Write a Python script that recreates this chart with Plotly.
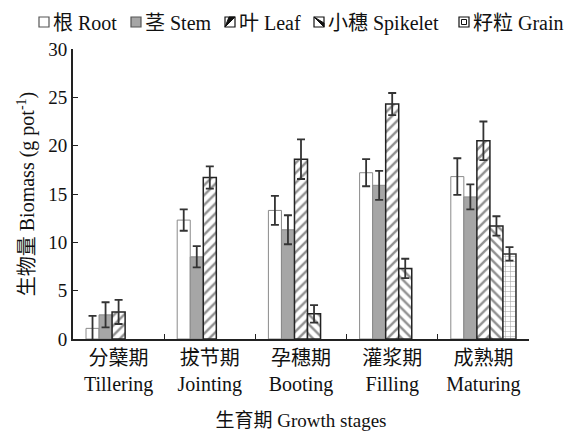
import plotly.graph_objects as go

CJK = "font-family:'Noto Sans CJK SC'"


def zh(text):
    """Wrap Chinese text in a span so it uses the CJK font."""
    return f"<span style=\"{CJK}\">{text}</span>"


# Growth stages (two-line labels: Chinese / English)
stages_zh = ["分蘖期", "拔节期", "孕穗期", "灌浆期", "成熟期"]
stages_en = ["Tillering", "Jointing", "Booting", "Filling", "Maturing"]
stages = [f"{zh(c)}<br>{e}" for c, e in zip(stages_zh, stages_en)]

# Organ names
organs_zh = ["根", "茎", "叶", "小穗", "籽粒"]
organs_en = ["Root", "Stem", "Leaf", "Spikelet", "Grain"]

# Biomass (g pot^-1) per organ, with standard deviations
root = [1.1, 12.3, 13.3, 17.2, 16.8]
root_sd = [1.3, 1.1, 1.5, 1.4, 1.9]
stem = [2.5, 8.5, 11.3, 15.9, 14.7]
stem_sd = [1.3, 1.1, 1.5, 1.5, 1.3]
leaf = [2.8, 16.7, 18.6, 24.3, 20.5]
leaf_sd = [1.25, 1.15, 2.05, 1.15, 2.0]
spikelet = [None, None, 2.6, 7.3, 11.7]
spikelet_sd = [None, None, 0.9, 1.0, 1.0]
grain = [None, None, None, None, 8.8]
grain_sd = [None, None, None, None, 0.7]

serif = "Liberation Serif, serif"

markers = [
    dict(color="white", line=dict(color="#8a8a8a", width=1)),
    dict(color="#a6a6a6", line=dict(color="#8a8a8a", width=1)),
    dict(color="white", line=dict(color="#222", width=1.5),
         pattern=dict(shape="/", fgcolor="#222", bgcolor="white", size=7, solidity=0.35)),
    dict(color="white", line=dict(color="#222", width=1.5),
         pattern=dict(shape="\\", fgcolor="#222", bgcolor="white", size=7, solidity=0.35)),
    dict(color="white", line=dict(color="#333", width=1.5),
         pattern=dict(shape="+", fgcolor="#444", bgcolor="white", size=5, solidity=0.2)),
]
values = [root, stem, leaf, spikelet, grain]
errors = [root_sd, stem_sd, leaf_sd, spikelet_sd, grain_sd]

fig = go.Figure()
for zh_name, en_name, vals, sd, marker in zip(organs_zh, organs_en, values, errors, markers):
    fig.add_trace(go.Bar(
        name=f"{zh(zh_name)} {en_name}", x=stages, y=vals, marker=marker,
        error_y=dict(type="data", array=sd, visible=True, color="#333",
                     thickness=1.8, width=4),
    ))

# Plot-area geometry in pixels (used to place the key above the axes)
W, H = 576, 432
L, R, T, B = 73, 47, 49, 93
PW, PH = W - L - R, H - T - B


def px(x):
    return (x - L) / PW


def py(y):
    return (H - B - y) / PH


# Key: small symbol squares followed by labels, in one row
key_x = [39, 131, 225, 314, 459]     # left edge of each symbol square
key_y = 22                           # vertical centre of the row
sq = 10
shapes, annotations = [], []
for i, (x0, zname, ename) in enumerate(zip(key_x, organs_zh, organs_en)):
    x1 = x0 + sq
    y0, y1 = key_y - sq / 2, key_y + sq / 2
    fill = "#a6a6a6" if i == 1 else "white"
    edge = "#555" if i < 2 else "#111"
    shapes.append(dict(type="rect", xref="paper", yref="paper",
                       x0=px(x0), x1=px(x1), y0=py(y1), y1=py(y0),
                       fillcolor=fill, line=dict(color=edge, width=1.2)))
    if i == 2:      # leaf: "/" hatch
        shapes.append(dict(type="path", xref="paper", yref="paper",
                           path=f"M {px(x0)} {py(y1)} L {px(x1)} {py(y0)} "
                                f"L {px(x0 + 4)} {py(y0)} Z",
                           fillcolor="#111", line=dict(color="#111", width=1)))
    elif i == 3:    # spikelet: "\" hatch
        shapes.append(dict(type="path", xref="paper", yref="paper",
                           path=f"M {px(x0)} {py(y0)} L {px(x1)} {py(y1)} "
                                f"L {px(x1)} {py(y1 - 4)} Z",
                           fillcolor="#111", line=dict(color="#111", width=1)))
    elif i == 4:    # grain: checked square
        shapes.append(dict(type="rect", xref="paper", yref="paper",
                           x0=px(x0 + 2.5), x1=px(x1 - 2.5), y0=py(y1 - 2.5), y1=py(y0 + 2.5),
                           fillcolor="white", line=dict(color="#111", width=1)))
    annotations.append(dict(xref="paper", yref="paper", x=px(x1 + 2), y=py(key_y),
                            xanchor="left", yanchor="middle", showarrow=False,
                            text=f"{zh(zname)} {ename}",
                            font=dict(family=serif, size=20, color="#111")))

fig.update_layout(
    width=W, height=H,
    margin=dict(l=L, r=R, t=T, b=B, autoexpand=False),
    paper_bgcolor="white", plot_bgcolor="white",
    barmode="group", bargap=0.285, bargroupgap=0,
    font=dict(family=serif, size=18, color="#111"),
    showlegend=False,
    shapes=shapes, annotations=annotations,
    xaxis=dict(
        type="category", showline=True, linecolor="#222", linewidth=2,
        ticks="inside", tickson="boundaries", ticklen=5, tickcolor="#222",
        tickfont=dict(size=20), showgrid=False,
        title=dict(text=zh("生育期") + " Growth stages", font=dict(size=19), standoff=22),
    ),
    yaxis=dict(
        range=[0, 30], dtick=5, showline=True, linecolor="#222", linewidth=2,
        ticks="inside", ticklen=5, tickcolor="#222", showgrid=False,
        tickfont=dict(size=19), zeroline=False,
        title=dict(text=zh("生物量") + " Biomass (g pot<sup>-1</sup>)",
                   font=dict(size=20), standoff=8),
    ),
)

fig.write_html("out.html")
